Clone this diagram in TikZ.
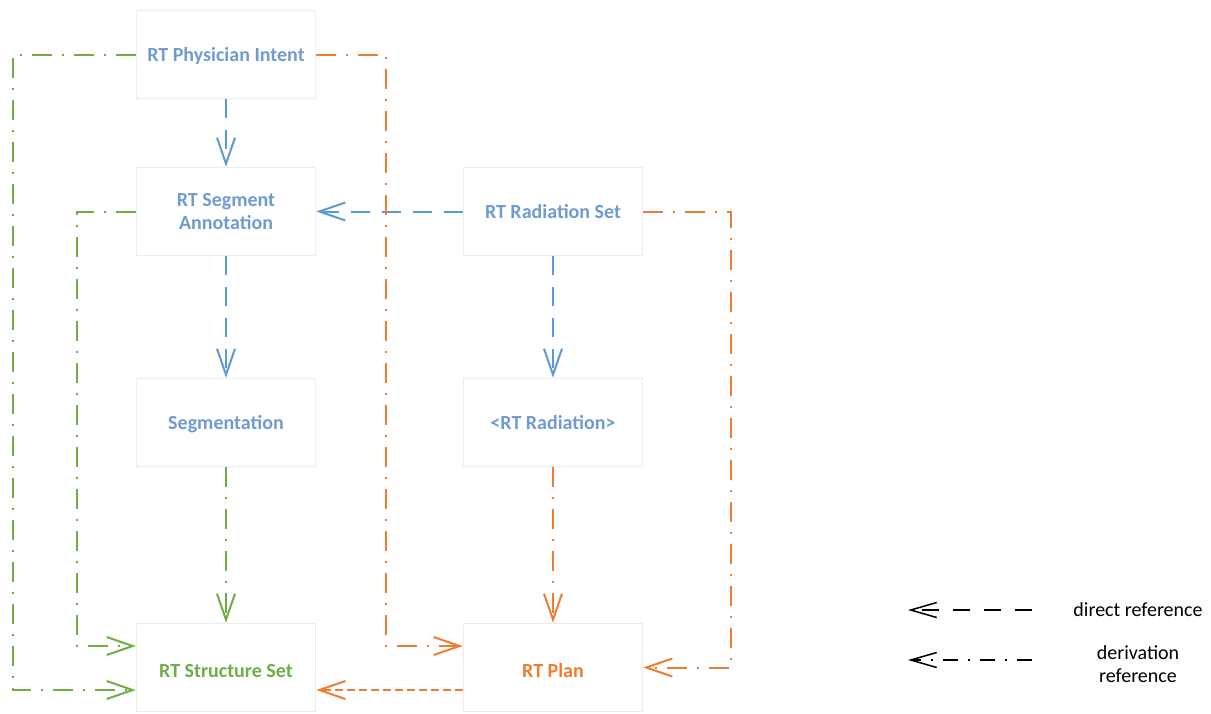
\documentclass[tikz,border=0pt]{standalone}
\usepackage{fontspec}
\setmainfont{Carlito}
\usetikzlibrary{arrows.meta}
\definecolor{lblue}{HTML}{5B9BD5}
\definecolor{tblue}{HTML}{6F9BD0}
\definecolor{lgreen}{HTML}{70AD47}
\definecolor{lorange}{HTML}{ED7D31}
\definecolor{boxgray}{HTML}{E9EEF5}
\definecolor{boxgreen}{HTML}{E6F1E0}
\definecolor{boxpink}{HTML}{FCE6DC}
\begin{document}
\begin{tikzpicture}[x=1pt,y=-1pt,
  box/.style={draw=boxgray, line width=1.5pt, minimum width=179pt, minimum height=88pt,
    inner sep=0pt, font=\bfseries\fontsize{20}{23.5}\selectfont, text=tblue, align=center},
  one/.style={text height=15pt, text depth=1pt},
  low/.style={text height=20pt, text depth=0pt},
  dref/.style={dash pattern=on 19pt off 12pt, line width=2pt},
  deriv/.style={dash pattern=on 20pt off 10pt on 2pt off 10pt, line width=2pt},
  shortdash/.style={dash pattern=on 8pt off 4pt, line width=2pt},
  tip/.style={-{Straight Barb[length=26pt,width=18pt]}},
  legtip/.style={-{Straight Barb[length=26pt,width=15pt]}},
  legtext/.style={font=\fontsize{20}{23.5}\selectfont, align=center}]
\useasboundingbox (0,0) rectangle (1211,713);

% boxes
\node[box, one] (phys) at (226,54.5) {RT Physician Intent};
\node[box] (segann) at (226,211.5) {RT Segment\\Annotation};
\node[box, one] (seg) at (226,422.5) {Segmentation};
\node[box, one] (radset) at (553,211.5) {RT Radiation Set};
\node[box, one] (rad) at (553,422.5) {<RT Radiation>};
\node[box, low, draw=boxgreen, text=lgreen] (ss) at (226,667.5) {RT Structure Set};
\node[box, low, draw=boxpink, text=lorange] (plan) at (553,667.5) {RT Plan};

% routing corners
\coordinate (g1) at (13,690);
\coordinate (g2) at (77,646);
\coordinate (o1) at (386,646);
\coordinate (o2) at (731,667.5);

% direct references (blue)
\draw[lblue, dref, tip] (phys) -- (segann);
\draw[lblue, dref, tip] (radset) -- (segann);
\draw[lblue, dref, tip] (segann) -- (seg);
\draw[lblue, dref, tip] (radset) -- (rad);

% derivation references
\draw[lgreen, deriv, tip] (seg) -- (ss);
\draw[lorange, deriv, tip] (rad) -- (plan);
\draw[lgreen, deriv, tip] (phys.west) -| (g1) -- (g1 -| ss.west);
\draw[lgreen, deriv, tip] (segann.west) -| (g2) -- (g2 -| ss.west);
\draw[lorange, deriv, tip] (phys.east) -| (o1) -- (o1 -| plan.west);
\draw[lorange, deriv, tip] (radset.east) -| (o2) -- (plan.east);

% plan -> structure set
\draw[lorange, shortdash, tip] (plan.west |- g1) -- (ss.east |- g1);

% legend
\coordinate (l1a) at (1032,610);
\coordinate (l1b) at (908,610);
\coordinate (l2a) at (1032,660);
\coordinate (l2b) at (908,660);
\draw[black, line width=1.5pt, dash pattern=on 17pt off 14pt, legtip] (l1a) -- (l1b);
\draw[black, line width=1.5pt, dash pattern=on 15pt off 10pt on 2pt off 10pt, legtip] (l2a) -- (l2b);
\node[legtext] (lt1) at (1138,610) {direct reference};
\node[legtext] (lt2) at (1138,664) {derivation\\reference};
\end{tikzpicture}
\end{document}
